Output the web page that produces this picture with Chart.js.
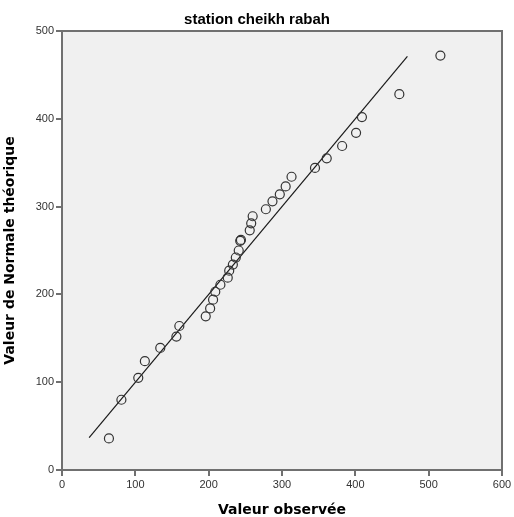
<!DOCTYPE html>
<html>
<head>
<meta charset="utf-8">
<script src="https://cdn.jsdelivr.net/npm/chart.js@4"></script>
<style>
  html, body { margin: 0; padding: 0; background: #fff; }
  #wrap { width: 514px; height: 517px; }
</style>
</head>
<body>
<div id="wrap"><canvas id="qq"></canvas></div>
<script>
const observed = [64, 81, 104, 113, 134, 156, 160, 196, 202, 206, 209, 216, 226, 228, 233, 237, 241, 243, 244, 256, 258, 260, 278, 287, 297, 305, 313, 345, 361, 382, 401, 409, 460, 516];
const expected = [36, 80, 105, 124, 139, 152, 164, 175, 184, 194, 203, 211, 219, 227, 234, 242, 250, 261, 262, 273, 281, 289, 297, 306, 314, 323, 334, 344, 355, 369, 384, 402, 428, 472];
// reference line y = x
const lineX = [37, 471];
const xTicks = [0, 100, 200, 300, 400, 500, 600];
const yTicks = [0, 100, 200, 300, 400, 500];
const chartTitle = 'station cheikh rabah';

const font = "'Liberation Sans', Arial, sans-serif";
const titleFont = "'DejaVu Sans', Verdana, sans-serif";

const bgPlugin = {
    id: 'plotBg',
    beforeDraw(chart) {
        const a = chart.chartArea;
        const ctx = chart.ctx;
        ctx.save();
        ctx.fillStyle = '#f0f0f0';
        ctx.fillRect(a.left, a.top, a.right - a.left, a.bottom - a.top);
        ctx.restore();
    },
    afterDatasetsDraw(chart) {
        const a = chart.chartArea;
        const ctx = chart.ctx;
        ctx.save();
        ctx.strokeStyle = '#707070';
        ctx.lineWidth = 2;
        ctx.strokeRect(a.left, a.top, a.right - a.left, a.bottom - a.top);
        // chart title, centred on the canvas
        ctx.fillStyle = '#000';
        ctx.font = "bold 15px " + font;
        ctx.textAlign = 'center';
        ctx.textBaseline = 'alphabetic';
        ctx.fillText(chartTitle, chart.width / 2, 24);
        ctx.restore();
    }
};

new Chart(document.getElementById('qq').getContext('2d'), {
    type: 'scatter',
    data: {
        datasets: [{
            label: 'Observed',
            data: observed.map((v, i) => ({ x: v, y: expected[i] })),
            pointStyle: 'circle',
            pointRadius: 4.5,
            backgroundColor: 'rgba(0,0,0,0)',
            borderColor: '#333333',
            borderWidth: 1.2
        }, {
            type: 'line',
            label: 'Line',
            data: lineX.map(v => ({ x: v, y: v })),
            borderColor: '#1a1a1a',
            borderWidth: 1.2,
            pointRadius: 0,
            fill: false
        }]
    },
    options: {
        responsive: true,
        maintainAspectRatio: false,
        animation: false,
        layout: { padding: { top: 31, right: 12, bottom: 0, left: 0 } },
        plugins: {
            legend: { display: false },
            tooltip: { enabled: false },
            title: { display: false }
        },
        scales: {
            x: {
                type: 'linear',
                min: 0,
                max: 600,
                afterBuildTicks: s => { s.ticks = xTicks.map(v => ({ value: v })); },
                afterFit: s => { s.height = 47; },
                grid: { drawOnChartArea: false, drawTicks: true, tickLength: 6, color: '#707070', lineWidth: 2 },
                border: { display: false },
                ticks: { color: '#333', font: { family: font, size: 11 }, padding: 2, maxRotation: 0 },
                title: {
                    display: true,
                    text: 'Valeur observée',
                    color: '#000',
                    font: { family: titleFont, size: 14, weight: 'bold', lineHeight: 1.0 },
                    padding: { top: 8, bottom: 0 }
                }
            },
            y: {
                type: 'linear',
                min: 0,
                max: 500,
                afterBuildTicks: s => { s.ticks = yTicks.map(v => ({ value: v })); },
                afterFit: s => { s.width = 62; },
                grid: { drawOnChartArea: false, drawTicks: true, tickLength: 6, color: '#707070', lineWidth: 2 },
                border: { display: false },
                ticks: { color: '#333', font: { family: font, size: 11 }, padding: 2 },
                title: {
                    display: true,
                    text: 'Valeur de Normale théorique',
                    color: '#000',
                    font: { family: titleFont, size: 14, weight: 'bold' },
                    padding: { top: 2, bottom: 6 }
                }
            }
        }
    },
    plugins: [bgPlugin]
});
</script>
</body>
</html>
